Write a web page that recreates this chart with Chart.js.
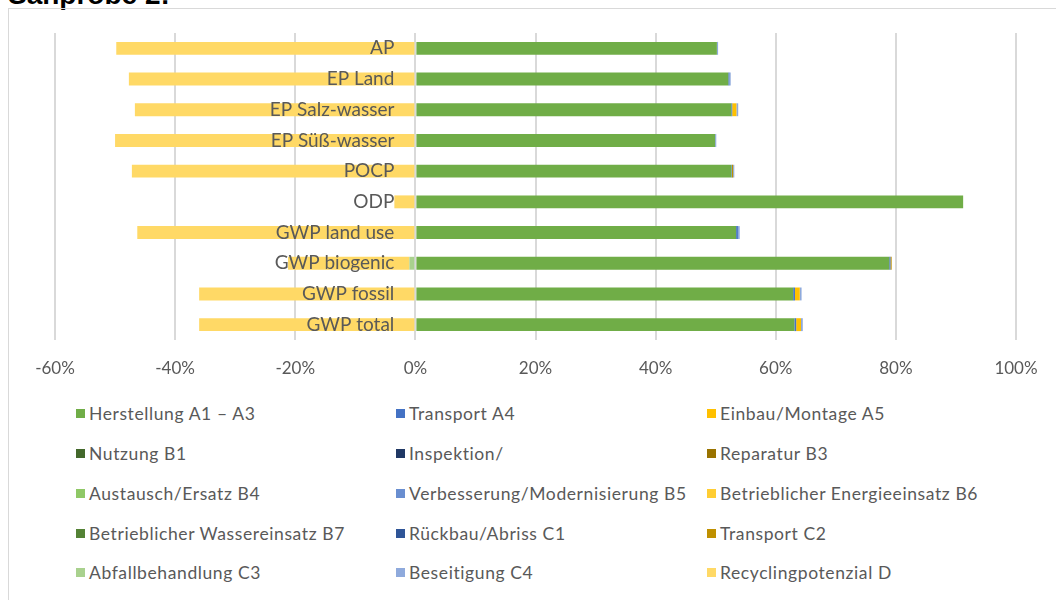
<!DOCTYPE html>
<html>
<head>
<meta charset="utf-8">
<script src="https://cdn.jsdelivr.net/npm/chart.js@4.4.0/dist/chart.umd.min.js"></script>
<style>
  body { margin: 0; background: #fff; width: 1056px; height: 600px; overflow: hidden; position: relative; font-family: Lato, sans-serif; }
  #title { position: absolute; left: 8px; top: -21px; font: bold 28px "Liberation Sans", Arial, sans-serif; color: #000; }
  #frame { position: absolute; left: 8px; top: 8px; width: 1200px; height: 800px; border: 1px solid #d9d9d9; }
  #c { position: absolute; left: 0; top: 0; }
  #legend { position: absolute; left: 76px; top: 394px; display: grid; grid-template-columns: 320px 311px 340px; grid-auto-rows: 39.75px; }
  .item { display: flex; align-items: center; font-size: 17.5px; letter-spacing: 0.6px; color: #595959; white-space: nowrap; }
  .box { width: 9px; height: 9px; margin-right: 4px; }
</style>
</head>
<body>
<div id="title">Sanprobe 2:</div>
<div id="frame"></div>
<canvas id="c" width="1056" height="392"></canvas>
<div id="legend"></div>
<script>
// categories, top to bottom
var categories = ['AP', 'EP Land', 'EP Salz-wasser', 'EP Süß-wasser', 'POCP', 'ODP', 'GWP land use', 'GWP biogenic', 'GWP fossil', 'GWP total'];

var seriesNames = ['Herstellung A1 – A3', 'Transport A4', 'Einbau/Montage A5', 'Nutzung B1', 'Inspektion/', 'Reparatur B3',
  'Austausch/Ersatz B4', 'Verbesserung/Modernisierung B5', 'Betrieblicher Energieeinsatz B6', 'Betrieblicher Wassereinsatz B7',
  'Rückbau/Abriss C1', 'Transport C2', 'Abfallbehandlung C3', 'Beseitigung C4', 'Recyclingpotenzial D'];

var seriesColors = ['#70AD47', '#4472C4', '#FFC000', '#43682B', '#203864', '#997300', '#8FC866', '#698ED0', '#FFCD33',
  '#548235', '#2F5597', '#BF9000', '#A9D18E', '#8FAADC', '#FFD966'];

// values in percent (share of each module)
var herstellungA1A3 = [50.2, 52.1, 52.6, 49.9, 52.6, 91.2, 53.4, 78.9, 62.9, 63.1];
var transportA4     = [0, 0.2, 0.15, 0, 0.1, 0, 0.3, 0.2, 0.3, 0.3];
var einbauA5        = [0, 0, 0.7, 0, 0, 0, 0, 0, 0.8, 0.8];
var nutzungB1       = [0, 0, 0, 0, 0, 0, 0, 0, 0, 0];
var inspektion      = [0, 0, 0, 0, 0, 0, 0, 0, 0, 0];
var reparaturB3     = [0, 0, 0, 0, 0, 0, 0, 0, 0, 0];
var austauschB4     = [0, 0, 0, 0, 0, 0, 0, 0, 0, 0];
var verbesserungB5  = [0, 0, 0, 0, 0, 0, 0, 0, 0, 0];
var energieB6       = [0, 0, 0, 0, 0, 0, 0, 0, 0, 0];
var wasserB7        = [0, 0, 0, 0, 0, 0, 0, 0, 0, 0];
var rueckbauC1      = [0, 0, 0, 0, 0, 0, 0, 0, 0, 0];
var transportC2     = [0, 0, 0, 0, 0.2, 0, 0, 0.2, 0, 0];
var abfallC3        = [0, 0, 0, 0, 0, 0, 0, -1, 0, 0];
var beseitigungC4   = [0.2, 0.2, 0.3, 0.2, 0.2, 0, 0.3, 0, 0.3, 0.3];
var recyclingD      = [-49.8, -47.7, -46.7, -50.0, -47.2, -3.5, -46.3, -20.2, -36.0, -36.0];

var xTicks = [-60, -40, -20, 0, 20, 40, 60, 80, 100];

var seriesValues = [herstellungA1A3, transportA4, einbauA5, nutzungB1, inspektion, reparaturB3, austauschB4,
  verbesserungB5, energieB6, wasserB7, rueckbauC1, transportC2, abfallC3, beseitigungC4, recyclingD];

var datasets = seriesNames.map(function(name, i) {
  return {
    label: name,
    data: seriesValues[i],
    backgroundColor: seriesColors[i],
    borderWidth: 0,
    barPercentage: 0.42,
    categoryPercentage: 1
  };
});

new Chart(document.getElementById('c'), {
  type: 'bar',
  data: { labels: categories, datasets: datasets },
  options: {
    indexAxis: 'y',
    responsive: false,
    animation: false,
    layout: { padding: { left: 55, right: 40, top: 33, bottom: 0 } },
    plugins: { legend: { display: false }, tooltip: { enabled: false } },
    scales: {
      x: {
        stacked: true,
        min: xTicks[0],
        max: xTicks[xTicks.length - 1],
        afterBuildTicks: function(axis) {
          axis.ticks = xTicks.map(function(v) { return { value: v }; });
        },
        afterFit: function(axis) { axis.height = 52; },
        grid: { color: '#d9d9d9', lineWidth: 2, drawTicks: false },
        border: { display: false },
        ticks: {
          padding: 18,
          color: '#595959',
          font: { family: 'Lato', size: 17 },
          callback: function(v) { return v + '%'; }
        }
      },
      y: {
        stacked: true,
        position: { x: -3.5 },
        grid: { display: false, drawTicks: false },
        border: { display: false },
        // category names sit on top of the bars, just left of 0%
        ticks: { z: 1, color: '#595959', font: { family: 'Lato', size: 19 } }
      }
    }
  }
});

// legend in three columns like the original
var legend = document.getElementById('legend');
seriesNames.forEach(function(name, i) {
  var item = document.createElement('div');
  item.className = 'item';
  var box = document.createElement('span');
  box.className = 'box';
  box.style.background = seriesColors[i];
  item.appendChild(box);
  item.appendChild(document.createTextNode(name));
  legend.appendChild(item);
});
</script>
</body>
</html>
